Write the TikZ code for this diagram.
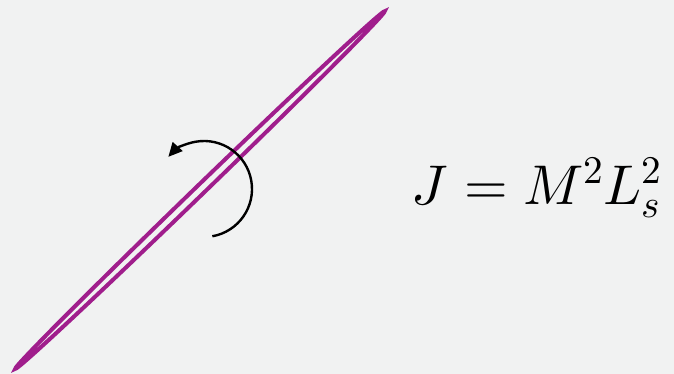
\documentclass[tikz,border=0pt]{standalone}
\usepackage{fontspec}
\usepackage{unicode-math}
\setmathfont{Latin Modern Math}
\usetikzlibrary{arrows.meta}
\definecolor{bgcol}{RGB}{241,242,242}
\definecolor{stringcol}{RGB}{160,30,140}
\begin{document}
\begin{tikzpicture}[x=1pt,y=1pt]
\fill[bgcol] (0,0) rectangle (674,374);
\useasboundingbox (0,0) rectangle (674,374);
\coordinate (center) at (200,184);
\draw[stringcol, line width=4pt, rotate around={44.06:(center)}] (center) ellipse [x radius=257, y radius=4.6];
\draw[line width=2.4pt, -{Triangle[length=14pt,width=13pt]}] ([shift={(-80:48)}]204,185) arc[start angle=-80, end angle=138, radius=48];
\node[anchor=center, font=\fontsize{56}{64}\selectfont] (eq) at (537,186) {$J=M^2L_s^2$};
\end{tikzpicture}
\end{document}
